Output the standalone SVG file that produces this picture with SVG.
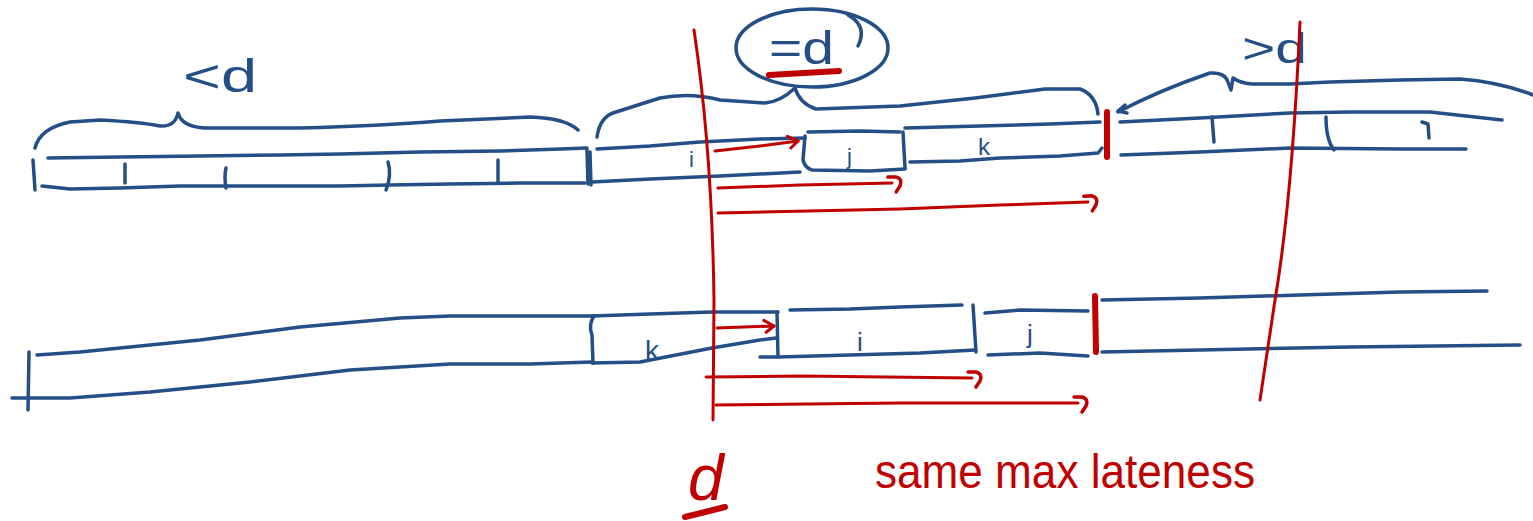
<svg xmlns="http://www.w3.org/2000/svg" width="1533" height="521" viewBox="0 0 1533 521">
<style>
.b{fill:none;stroke:#234f86;stroke-width:3.5;stroke-linecap:round;stroke-linejoin:round}
.r{fill:none;stroke:#c00000;stroke-width:3;stroke-linecap:round;stroke-linejoin:round}
.rb{fill:none;stroke:#c00000;stroke-width:6;stroke-linecap:round}
.tb{fill:#234f86;font-family:'Liberation Sans',Arial,sans-serif}
.tr{fill:#c00000;font-family:'Liberation Sans',Arial,sans-serif}
</style>
<defs>
<marker id="head" markerUnits="userSpaceOnUse" markerWidth="20" markerHeight="20" refX="10" refY="10" orient="auto" overflow="visible">
<path d="M0,4 L10,10 L2,16" fill="none" stroke="#c00000" stroke-width="3" stroke-linecap="round" stroke-linejoin="round"/>
</marker>
<marker id="hook" markerUnits="userSpaceOnUse" markerWidth="24" markerHeight="24" refX="8" refY="10" orient="auto" overflow="visible">
<path d="M4,4 L12,4 Q19,6 16,13 L12,19" fill="none" stroke="#c00000" stroke-width="3.5" stroke-linecap="round" stroke-linejoin="round"/>
</marker>
</defs>

<g id="upper-left-jobs">
<path class="b" d="M35,148 Q40,128 70,122 L100,120 Q140,122 160,126 Q175,127 178,113 Q182,127 205,128 L300,128 Q380,126 440,121 L530,117 Q565,118 578,130"/>
<text class="tb" x="183" y="92" font-size="46" textLength="74" lengthAdjust="spacingAndGlyphs">&lt;d</text>
<path class="b" d="M48,158 L120,157 L200,156 L280,155 L340,154 L420,152 L500,151 L560,149 L587,148"/>
<path class="b" d="M42,186 L70,189 L120,188 L180,186 L260,186 L340,186 L390,185 L450,184 L520,183 L585,183"/>
<path class="b" d="M33,160 L35,190"/>
<path class="b" d="M587,150 L588,184"/>
<path class="b" d="M125,164 L125,183"/>
<path class="b" d="M226,168 Q224,176 226,188"/>
<path class="b" d="M388,162 Q392,175 386,190"/>
<path class="b" d="M498,160 L498,183"/>
</g>

<g id="upper-equal-jobs">
<ellipse class="b" cx="812" cy="48" rx="76" ry="39"/>
<path class="b" d="M858,46 Q868,26 848,15"/>
<text class="tb" x="769" y="64" font-size="46" textLength="65" lengthAdjust="spacingAndGlyphs">=d</text>
<path class="rb" d="M769,75 L839,71"/>
<path class="b" d="M597,137 Q600,116 616,112 L660,98 Q690,92 720,100 L765,103 Q780,102 795,88 Q800,104 816,109 L900,106 L975,98 L1045,89 L1080,89 Q1096,95 1098,114"/>
<path class="b" d="M597,149 L650,146 L700,142 L760,139 L805,138"/>
<path class="b" d="M592,182 L650,179 L720,176 L800,172"/>
<path class="b" d="M590,152 L591,185"/>
<path class="b" d="M808,132 L860,131 L900,132"/>
<path class="b" d="M805,136 L803,160 Q805,168 812,170 L870,171 L905,169"/>
<path class="b" d="M903,132 L905,168"/>
<path class="b" d="M905,128 L980,126 L1050,124 L1100,122"/>
<path class="b" d="M910,162 L960,161 L1000,158 L1060,156 L1098,153 L1102,148"/>
<text class="tb" x="689" y="167" font-size="22">i</text>
<text class="tb" x="847" y="164" font-size="22">j</text>
<text class="tb" x="978" y="155" font-size="24">k</text>
<path class="rb" d="M1107,112 L1107,157"/>
</g>

<g id="upper-right-jobs">
<path class="b" d="M1118,112 Q1160,90 1210,73 Q1225,72 1228,82 L1231,90 L1233,78 Q1240,83 1252,84 L1290,84 L1330,82 L1400,80 L1460,79 Q1500,82 1533,95"/>
<path class="b" d="M1125,105 L1118,111 L1127,113"/>
<text class="tb" x="1242" y="63" font-size="42" textLength="65" lengthAdjust="spacingAndGlyphs">&gt;d</text>
<path class="b" d="M1120,122 L1200,118 L1290,113 L1350,112 L1430,112 L1502,120"/>
<path class="b" d="M1121,155 L1200,152 L1290,148 L1400,149 L1466,149"/>
<path class="b" d="M1212,117 L1214,142"/>
<path class="b" d="M1326,117 Q1326,140 1334,150"/>
<path class="b" d="M1422,122 L1428,124 L1429,138"/>
</g>

<g id="lower-jobs">
<path class="b" d="M37,355 L80,352 L130,347 L200,340 L300,327 L400,318 L450,316 L592,316"/>
<path class="b" d="M12,398 L70,398 L150,392 L250,382 L350,370 L450,364 L530,364 L592,362"/>
<path class="b" d="M29,352 L28,410"/>
<path class="b" d="M594,316 Q588,325 592,335 L593,363"/>
<path class="b" d="M592,316 L650,314 L712,312 L778,312"/>
<path class="b" d="M592,363 L640,362 L712,348 L760,340 L776,338"/>
<path class="b" d="M777,312 L778,357 L760,357"/>
<text class="tb" x="645" y="360" font-size="28">k</text>
<path class="b" d="M790,310 L850,309 L900,307 L962,305"/>
<path class="b" d="M778,357 L850,355 L920,353 L975,350"/>
<path class="b" d="M973,305 L976,352"/>
<text class="tb" x="857" y="351" font-size="26">i</text>
<path class="b" d="M985,313 L1020,310 L1088,311"/>
<path class="b" d="M988,355 L1040,353 L1088,356"/>
<text class="tb" x="1027" y="343" font-size="26">j</text>
<path class="rb" d="M1095,296 L1096,352"/>
<path class="b" d="M1102,300 L1200,298 L1300,295 L1400,292 L1487,291"/>
<path class="b" d="M1102,352 L1200,350 L1350,347 L1520,345"/>
</g>

<g id="deadline">
<path class="r" d="M694,30 Q712,150 714,300 L713,420"/>
<path class="r" d="M1300,22 Q1292,200 1275,300 L1260,400"/>
<text class="tr" x="688" y="500" font-size="64" font-style="italic">d</text>
<path class="rb" d="M685,517 L725,507"/>
<text class="tr" x="875" y="488" font-size="48" textLength="380" lengthAdjust="spacingAndGlyphs">same max lateness</text>
</g>

<g id="connectors">
<path class="r" d="M715,151 L760,146 L798,141" marker-end="url(#head)"/>
<path class="r" d="M718,188 L800,185 L892,183" marker-end="url(#hook)"/>
<path class="r" d="M718,213 L900,209 L1000,205 L1088,202" marker-end="url(#hook)"/>
<path class="r" d="M717,328 L774,326" marker-end="url(#head)"/>
<path class="r" d="M706,377 L800,376 L972,378" marker-end="url(#hook)"/>
<path class="r" d="M716,405 L900,403 L1078,403" marker-end="url(#hook)"/>
</g>
</svg>
